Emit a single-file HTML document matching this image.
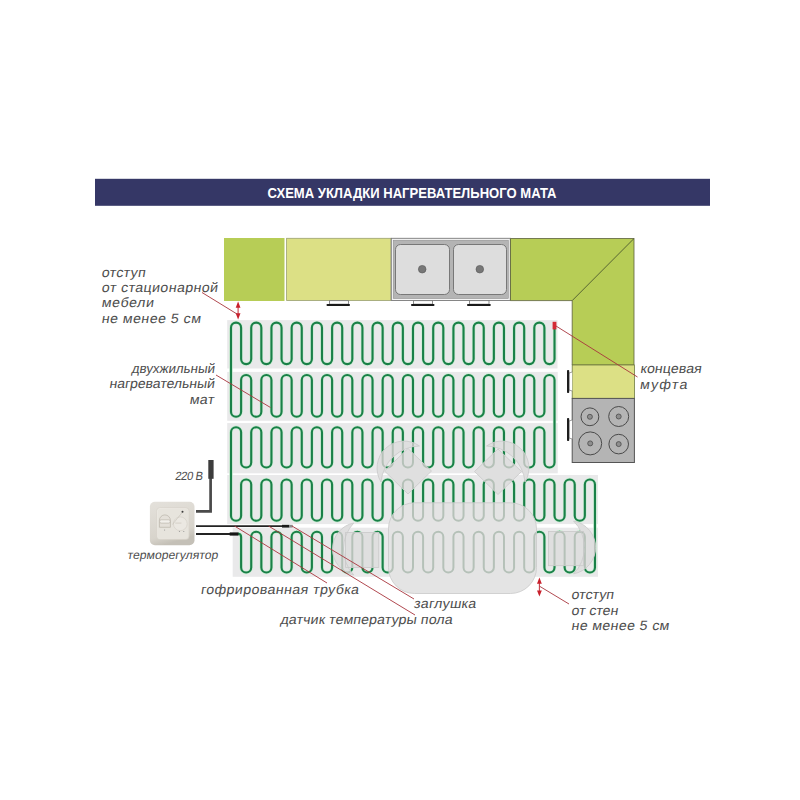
<!DOCTYPE html><html><head><meta charset="utf-8"><style>html,body{margin:0;padding:0;background:#fff;width:800px;height:800px;overflow:hidden}svg{display:block}text{font-family:"Liberation Sans",sans-serif}</style></head><body>
<svg width="800" height="800" viewBox="0 0 800 800">
<rect width="800" height="800" fill="#fff"/>
<rect x="95" y="178.8" width="615" height="27" fill="#353766"/>
<text x="267.5" y="197.7" font-size="13.9" font-weight="bold" fill="#fff" textLength="289" lengthAdjust="spacingAndGlyphs">СХЕМА УКЛАДКИ НАГРЕВАТЕЛЬНОГО МАТА</text>
<rect x="224" y="238" width="60.5" height="63" fill="#b7cd56"/>
<rect x="286.6" y="238.3" width="104.4" height="62.2" fill="#dce085" stroke="#9aa070" stroke-width="0.8"/>
<rect x="391.3" y="238.3" width="119" height="62.2" fill="#f4f4f4" stroke="#7a7a7a" stroke-width="0.9"/>
<rect x="393.2" y="240.2" width="115.2" height="58.4" fill="#b4b4b4" stroke="#8a8a8a" stroke-width="0.5"/>
<rect x="395.5" y="244.5" width="54" height="50" rx="5" fill="#dddddd" stroke="#6e6e6e" stroke-width="0.9"/>
<rect x="453.5" y="244.5" width="53" height="50" rx="5" fill="#dddddd" stroke="#6e6e6e" stroke-width="0.9"/>
<circle cx="422.2" cy="269.2" r="3.8" fill="#777" stroke="#555" stroke-width="0.6"/>
<circle cx="479.8" cy="269.2" r="3.8" fill="#777" stroke="#555" stroke-width="0.6"/>
<path d="M510.5 238.5H634V365H572.2V300.6H510.5Z" fill="#b7cd56" stroke="#5a5f3a" stroke-width="0.8"/>
<path d="M634 238.5L572.2 300.6" stroke="#3f4a2a" stroke-width="0.8"/>
<rect x="572.2" y="365" width="62.2" height="33.4" fill="#dce085" stroke="#6f7a40" stroke-width="0.8"/>
<rect x="572.2" y="398.4" width="62.2" height="64.1" fill="#b4b4b4" stroke="#555" stroke-width="1"/>
<circle cx="589.9" cy="416.8" r="8.9" fill="none" stroke="#4a4a4a" stroke-width="1"/>
<circle cx="589.9" cy="416.8" r="2.5" fill="#8e8e8e" stroke="#4a4a4a" stroke-width="0.8"/>
<circle cx="618.7" cy="416.5" r="10" fill="none" stroke="#4a4a4a" stroke-width="1"/>
<circle cx="618.7" cy="416.5" r="2.5" fill="#8e8e8e" stroke="#4a4a4a" stroke-width="0.8"/>
<circle cx="590.2" cy="443.4" r="11.5" fill="none" stroke="#4a4a4a" stroke-width="1"/>
<circle cx="590.2" cy="443.4" r="2.5" fill="#8e8e8e" stroke="#4a4a4a" stroke-width="0.8"/>
<circle cx="618.7" cy="444.1" r="9.8" fill="none" stroke="#4a4a4a" stroke-width="1"/>
<circle cx="618.7" cy="444.1" r="2.5" fill="#8e8e8e" stroke="#4a4a4a" stroke-width="0.8"/>
<path d="M329.5 300.6V304.2H348.5V300.6Z" fill="#fff" stroke="#6a6a6a" stroke-width="0.75"/>
<rect x="326.5" y="303.9" width="23.5" height="2" rx="0.9" fill="#1a1a1a"/>
<path d="M413.5 300.6V304.2H432.5V300.6Z" fill="#fff" stroke="#6a6a6a" stroke-width="0.75"/>
<rect x="411" y="303.9" width="23.5" height="2" rx="0.9" fill="#1a1a1a"/>
<path d="M469.5 300.6V304.2H489V300.6Z" fill="#fff" stroke="#6a6a6a" stroke-width="0.75"/>
<rect x="467" y="303.9" width="23.80000000000001" height="2" rx="0.9" fill="#1a1a1a"/>
<path d="M572.2 372L569 373V390L572.2 391" fill="#fff" stroke="#777" stroke-width="0.7"/>
<rect x="567" y="370" width="2.2" height="23" rx="0.8" fill="#1e1e1e"/>
<path d="M572.2 420L569 421V438L572.2 439" fill="#fff" stroke="#777" stroke-width="0.7"/>
<rect x="567" y="418" width="2.2" height="23" rx="0.8" fill="#1e1e1e"/>
<rect x="227.2" y="320.1" width="330.3" height="48.39999999999998" fill="#e9e9ea"/>
<rect x="227.2" y="371.9" width="330.55" height="48.900000000000034" fill="#e9e9ea"/>
<rect x="227.2" y="423.06" width="330.55" height="50.24000000000001" fill="#e9e9ea"/>
<rect x="227.2" y="475" width="370.8" height="49.10000000000002" fill="#e9e9ea"/>
<rect x="232.7" y="527.7" width="365.3" height="49.09999999999991" fill="#e9e9ea"/>
<path d="M554.52 329L554.52 359.1A5.05 5.05 0 0 1 544.41 359.1L544.41 327.65A5.05 5.05 0 0 0 534.3 327.65L534.3 359.1A5.05 5.05 0 0 1 524.19 359.1L524.19 327.65A5.05 5.05 0 0 0 514.08 327.65L514.08 359.1A5.05 5.05 0 0 1 503.97 359.1L503.97 327.65A5.05 5.05 0 0 0 493.86 327.65L493.86 359.1A5.05 5.05 0 0 1 483.75 359.1L483.75 327.65A5.05 5.05 0 0 0 473.64 327.65L473.64 359.1A5.05 5.05 0 0 1 463.53 359.1L463.53 327.65A5.05 5.05 0 0 0 453.42 327.65L453.42 359.1A5.05 5.05 0 0 1 443.31 359.1L443.31 327.65A5.05 5.05 0 0 0 433.2 327.65L433.2 359.1A5.05 5.05 0 0 1 423.09 359.1L423.09 327.65A5.05 5.05 0 0 0 412.98 327.65L412.98 359.1A5.05 5.05 0 0 1 402.87 359.1L402.87 327.65A5.05 5.05 0 0 0 392.76 327.65L392.76 359.1A5.05 5.05 0 0 1 382.65 359.1L382.65 327.65A5.05 5.05 0 0 0 372.54 327.65L372.54 359.1A5.05 5.05 0 0 1 362.43 359.1L362.43 327.65A5.05 5.05 0 0 0 352.32 327.65L352.32 359.1A5.05 5.05 0 0 1 342.21 359.1L342.21 327.65A5.05 5.05 0 0 0 332.1 327.65L332.1 359.1A5.05 5.05 0 0 1 321.99 359.1L321.99 327.65A5.05 5.05 0 0 0 311.88 327.65L311.88 359.1A5.05 5.05 0 0 1 301.77 359.1L301.77 327.65A5.05 5.05 0 0 0 291.66 327.65L291.66 359.1A5.05 5.05 0 0 1 281.55 359.1L281.55 327.65A5.05 5.05 0 0 0 271.44 327.65L271.44 359.1A5.05 5.05 0 0 1 261.33 359.1L261.33 327.65A5.05 5.05 0 0 0 251.22 327.65L251.22 359.1A5.05 5.05 0 0 1 241.11 359.1L241.11 327.65A5.05 5.05 0 0 0 231 327.65L231 359.1L231 411.75A5.05 5.05 0 0 0 241.11 411.75L241.11 380.05A5.05 5.05 0 0 1 251.22 380.05L251.22 411.75A5.05 5.05 0 0 0 261.33 411.75L261.33 380.05A5.05 5.05 0 0 1 271.44 380.05L271.44 411.75A5.05 5.05 0 0 0 281.55 411.75L281.55 380.05A5.05 5.05 0 0 1 291.66 380.05L291.66 411.75A5.05 5.05 0 0 0 301.77 411.75L301.77 380.05A5.05 5.05 0 0 1 311.88 380.05L311.88 411.75A5.05 5.05 0 0 0 321.99 411.75L321.99 380.05A5.05 5.05 0 0 1 332.1 380.05L332.1 411.75A5.05 5.05 0 0 0 342.21 411.75L342.21 380.05A5.05 5.05 0 0 1 352.32 380.05L352.32 411.75A5.05 5.05 0 0 0 362.43 411.75L362.43 380.05A5.05 5.05 0 0 1 372.54 380.05L372.54 411.75A5.05 5.05 0 0 0 382.65 411.75L382.65 380.05A5.05 5.05 0 0 1 392.76 380.05L392.76 411.75A5.05 5.05 0 0 0 402.87 411.75L402.87 380.05A5.05 5.05 0 0 1 412.98 380.05L412.98 411.75A5.05 5.05 0 0 0 423.09 411.75L423.09 380.05A5.05 5.05 0 0 1 433.2 380.05L433.2 411.75A5.05 5.05 0 0 0 443.31 411.75L443.31 380.05A5.05 5.05 0 0 1 453.42 380.05L453.42 411.75A5.05 5.05 0 0 0 463.53 411.75L463.53 380.05A5.05 5.05 0 0 1 473.64 380.05L473.64 411.75A5.05 5.05 0 0 0 483.75 411.75L483.75 380.05A5.05 5.05 0 0 1 493.86 380.05L493.86 411.75A5.05 5.05 0 0 0 503.97 411.75L503.97 380.05A5.05 5.05 0 0 1 514.08 380.05L514.08 411.75A5.05 5.05 0 0 0 524.19 411.75L524.19 380.05A5.05 5.05 0 0 1 534.3 380.05L534.3 411.75A5.05 5.05 0 0 0 544.41 411.75L544.41 380.05A5.05 5.05 0 0 1 554.52 380.05L554.52 411.75L554.52 462.5A5.05 5.05 0 0 1 544.41 462.5L544.41 432.25A5.05 5.05 0 0 0 534.3 432.25L534.3 462.5A5.05 5.05 0 0 1 524.19 462.5L524.19 432.25A5.05 5.05 0 0 0 514.08 432.25L514.08 462.5A5.05 5.05 0 0 1 503.97 462.5L503.97 432.25A5.05 5.05 0 0 0 493.86 432.25L493.86 462.5A5.05 5.05 0 0 1 483.75 462.5L483.75 432.25A5.05 5.05 0 0 0 473.64 432.25L473.64 462.5A5.05 5.05 0 0 1 463.53 462.5L463.53 432.25A5.05 5.05 0 0 0 453.42 432.25L453.42 462.5A5.05 5.05 0 0 1 443.31 462.5L443.31 432.25A5.05 5.05 0 0 0 433.2 432.25L433.2 462.5A5.05 5.05 0 0 1 423.09 462.5L423.09 432.25A5.05 5.05 0 0 0 412.98 432.25L412.98 462.5A5.05 5.05 0 0 1 402.87 462.5L402.87 432.25A5.05 5.05 0 0 0 392.76 432.25L392.76 462.5A5.05 5.05 0 0 1 382.65 462.5L382.65 432.25A5.05 5.05 0 0 0 372.54 432.25L372.54 462.5A5.05 5.05 0 0 1 362.43 462.5L362.43 432.25A5.05 5.05 0 0 0 352.32 432.25L352.32 462.5A5.05 5.05 0 0 1 342.21 462.5L342.21 432.25A5.05 5.05 0 0 0 332.1 432.25L332.1 462.5A5.05 5.05 0 0 1 321.99 462.5L321.99 432.25A5.05 5.05 0 0 0 311.88 432.25L311.88 462.5A5.05 5.05 0 0 1 301.77 462.5L301.77 432.25A5.05 5.05 0 0 0 291.66 432.25L291.66 462.5A5.05 5.05 0 0 1 281.55 462.5L281.55 432.25A5.05 5.05 0 0 0 271.44 432.25L271.44 462.5A5.05 5.05 0 0 1 261.33 462.5L261.33 432.25A5.05 5.05 0 0 0 251.22 432.25L251.22 462.5A5.05 5.05 0 0 1 241.11 462.5L241.11 432.25A5.05 5.05 0 0 0 231 432.25L231 462.5L231 515.7A5.05 5.05 0 0 0 241.11 515.7L241.11 484.5A5.05 5.05 0 0 1 251.22 484.5L251.22 515.7A5.05 5.05 0 0 0 261.33 515.7L261.33 484.5A5.05 5.05 0 0 1 271.44 484.5L271.44 515.7A5.05 5.05 0 0 0 281.55 515.7L281.55 484.5A5.05 5.05 0 0 1 291.66 484.5L291.66 515.7A5.05 5.05 0 0 0 301.77 515.7L301.77 484.5A5.05 5.05 0 0 1 311.88 484.5L311.88 515.7A5.05 5.05 0 0 0 321.99 515.7L321.99 484.5A5.05 5.05 0 0 1 332.1 484.5L332.1 515.7A5.05 5.05 0 0 0 342.21 515.7L342.21 484.5A5.05 5.05 0 0 1 352.32 484.5L352.32 515.7A5.05 5.05 0 0 0 362.43 515.7L362.43 484.5A5.05 5.05 0 0 1 372.54 484.5L372.54 515.7A5.05 5.05 0 0 0 382.65 515.7L382.65 484.5A5.05 5.05 0 0 1 392.76 484.5L392.76 515.7A5.05 5.05 0 0 0 402.87 515.7L402.87 484.5A5.05 5.05 0 0 1 412.98 484.5L412.98 515.7A5.05 5.05 0 0 0 423.09 515.7L423.09 484.5A5.05 5.05 0 0 1 433.2 484.5L433.2 515.7A5.05 5.05 0 0 0 443.31 515.7L443.31 484.5A5.05 5.05 0 0 1 453.42 484.5L453.42 515.7A5.05 5.05 0 0 0 463.53 515.7L463.53 484.5A5.05 5.05 0 0 1 473.64 484.5L473.64 515.7A5.05 5.05 0 0 0 483.75 515.7L483.75 484.5A5.05 5.05 0 0 1 493.86 484.5L493.86 515.7A5.05 5.05 0 0 0 503.97 515.7L503.97 484.5A5.05 5.05 0 0 1 514.08 484.5L514.08 515.7A5.05 5.05 0 0 0 524.19 515.7L524.19 484.5A5.05 5.05 0 0 1 534.3 484.5L534.3 515.7A5.05 5.05 0 0 0 544.41 515.7L544.41 484.5A5.05 5.05 0 0 1 554.52 484.5L554.52 515.7A5.05 5.05 0 0 0 564.63 515.7L564.63 484.5A5.05 5.05 0 0 1 574.74 484.5L574.74 515.7A5.05 5.05 0 0 0 584.85 515.7L584.85 484.5A5.05 5.05 0 0 1 594.96 484.5L594.96 515.7L594.96 567.45A5.05 5.05 0 0 1 584.85 567.45L584.85 536.8A5.05 5.05 0 0 0 574.74 536.8L574.74 567.45A5.05 5.05 0 0 1 564.63 567.45L564.63 536.8A5.05 5.05 0 0 0 554.52 536.8L554.52 567.45A5.05 5.05 0 0 1 544.41 567.45L544.41 536.8A5.05 5.05 0 0 0 534.3 536.8L534.3 567.45A5.05 5.05 0 0 1 524.19 567.45L524.19 536.8A5.05 5.05 0 0 0 514.08 536.8L514.08 567.45A5.05 5.05 0 0 1 503.97 567.45L503.97 536.8A5.05 5.05 0 0 0 493.86 536.8L493.86 567.45A5.05 5.05 0 0 1 483.75 567.45L483.75 536.8A5.05 5.05 0 0 0 473.64 536.8L473.64 567.45A5.05 5.05 0 0 1 463.53 567.45L463.53 536.8A5.05 5.05 0 0 0 453.42 536.8L453.42 567.45A5.05 5.05 0 0 1 443.31 567.45L443.31 536.8A5.05 5.05 0 0 0 433.2 536.8L433.2 567.45A5.05 5.05 0 0 1 423.09 567.45L423.09 536.8A5.05 5.05 0 0 0 412.98 536.8L412.98 567.45A5.05 5.05 0 0 1 402.87 567.45L402.87 536.8A5.05 5.05 0 0 0 392.76 536.8L392.76 567.45A5.05 5.05 0 0 1 382.65 567.45L382.65 536.8A5.05 5.05 0 0 0 372.54 536.8L372.54 567.45A5.05 5.05 0 0 1 362.43 567.45L362.43 536.8A5.05 5.05 0 0 0 352.32 536.8L352.32 567.45A5.05 5.05 0 0 1 342.21 567.45L342.21 536.8A5.05 5.05 0 0 0 332.1 536.8L332.1 567.45A5.05 5.05 0 0 1 321.99 567.45L321.99 536.8A5.05 5.05 0 0 0 311.88 536.8L311.88 567.45A5.05 5.05 0 0 1 301.77 567.45L301.77 536.8A5.05 5.05 0 0 0 291.66 536.8L291.66 567.45A5.05 5.05 0 0 1 281.55 567.45L281.55 536.8A5.05 5.05 0 0 0 271.44 536.8L271.44 567.45A5.05 5.05 0 0 1 261.33 567.45L261.33 536.8A5.05 5.05 0 0 0 251.22 536.8L251.22 567.45A5.05 5.05 0 0 1 241.11 567.45L241.11 536.8L241.11 537Q241.11 533.8 238 533.8" fill="none" stroke="#c9ecd2" stroke-width="3.4"/>
<path d="M554.52 329L554.52 359.1A5.05 5.05 0 0 1 544.41 359.1L544.41 327.65A5.05 5.05 0 0 0 534.3 327.65L534.3 359.1A5.05 5.05 0 0 1 524.19 359.1L524.19 327.65A5.05 5.05 0 0 0 514.08 327.65L514.08 359.1A5.05 5.05 0 0 1 503.97 359.1L503.97 327.65A5.05 5.05 0 0 0 493.86 327.65L493.86 359.1A5.05 5.05 0 0 1 483.75 359.1L483.75 327.65A5.05 5.05 0 0 0 473.64 327.65L473.64 359.1A5.05 5.05 0 0 1 463.53 359.1L463.53 327.65A5.05 5.05 0 0 0 453.42 327.65L453.42 359.1A5.05 5.05 0 0 1 443.31 359.1L443.31 327.65A5.05 5.05 0 0 0 433.2 327.65L433.2 359.1A5.05 5.05 0 0 1 423.09 359.1L423.09 327.65A5.05 5.05 0 0 0 412.98 327.65L412.98 359.1A5.05 5.05 0 0 1 402.87 359.1L402.87 327.65A5.05 5.05 0 0 0 392.76 327.65L392.76 359.1A5.05 5.05 0 0 1 382.65 359.1L382.65 327.65A5.05 5.05 0 0 0 372.54 327.65L372.54 359.1A5.05 5.05 0 0 1 362.43 359.1L362.43 327.65A5.05 5.05 0 0 0 352.32 327.65L352.32 359.1A5.05 5.05 0 0 1 342.21 359.1L342.21 327.65A5.05 5.05 0 0 0 332.1 327.65L332.1 359.1A5.05 5.05 0 0 1 321.99 359.1L321.99 327.65A5.05 5.05 0 0 0 311.88 327.65L311.88 359.1A5.05 5.05 0 0 1 301.77 359.1L301.77 327.65A5.05 5.05 0 0 0 291.66 327.65L291.66 359.1A5.05 5.05 0 0 1 281.55 359.1L281.55 327.65A5.05 5.05 0 0 0 271.44 327.65L271.44 359.1A5.05 5.05 0 0 1 261.33 359.1L261.33 327.65A5.05 5.05 0 0 0 251.22 327.65L251.22 359.1A5.05 5.05 0 0 1 241.11 359.1L241.11 327.65A5.05 5.05 0 0 0 231 327.65L231 359.1L231 411.75A5.05 5.05 0 0 0 241.11 411.75L241.11 380.05A5.05 5.05 0 0 1 251.22 380.05L251.22 411.75A5.05 5.05 0 0 0 261.33 411.75L261.33 380.05A5.05 5.05 0 0 1 271.44 380.05L271.44 411.75A5.05 5.05 0 0 0 281.55 411.75L281.55 380.05A5.05 5.05 0 0 1 291.66 380.05L291.66 411.75A5.05 5.05 0 0 0 301.77 411.75L301.77 380.05A5.05 5.05 0 0 1 311.88 380.05L311.88 411.75A5.05 5.05 0 0 0 321.99 411.75L321.99 380.05A5.05 5.05 0 0 1 332.1 380.05L332.1 411.75A5.05 5.05 0 0 0 342.21 411.75L342.21 380.05A5.05 5.05 0 0 1 352.32 380.05L352.32 411.75A5.05 5.05 0 0 0 362.43 411.75L362.43 380.05A5.05 5.05 0 0 1 372.54 380.05L372.54 411.75A5.05 5.05 0 0 0 382.65 411.75L382.65 380.05A5.05 5.05 0 0 1 392.76 380.05L392.76 411.75A5.05 5.05 0 0 0 402.87 411.75L402.87 380.05A5.05 5.05 0 0 1 412.98 380.05L412.98 411.75A5.05 5.05 0 0 0 423.09 411.75L423.09 380.05A5.05 5.05 0 0 1 433.2 380.05L433.2 411.75A5.05 5.05 0 0 0 443.31 411.75L443.31 380.05A5.05 5.05 0 0 1 453.42 380.05L453.42 411.75A5.05 5.05 0 0 0 463.53 411.75L463.53 380.05A5.05 5.05 0 0 1 473.64 380.05L473.64 411.75A5.05 5.05 0 0 0 483.75 411.75L483.75 380.05A5.05 5.05 0 0 1 493.86 380.05L493.86 411.75A5.05 5.05 0 0 0 503.97 411.75L503.97 380.05A5.05 5.05 0 0 1 514.08 380.05L514.08 411.75A5.05 5.05 0 0 0 524.19 411.75L524.19 380.05A5.05 5.05 0 0 1 534.3 380.05L534.3 411.75A5.05 5.05 0 0 0 544.41 411.75L544.41 380.05A5.05 5.05 0 0 1 554.52 380.05L554.52 411.75L554.52 462.5A5.05 5.05 0 0 1 544.41 462.5L544.41 432.25A5.05 5.05 0 0 0 534.3 432.25L534.3 462.5A5.05 5.05 0 0 1 524.19 462.5L524.19 432.25A5.05 5.05 0 0 0 514.08 432.25L514.08 462.5A5.05 5.05 0 0 1 503.97 462.5L503.97 432.25A5.05 5.05 0 0 0 493.86 432.25L493.86 462.5A5.05 5.05 0 0 1 483.75 462.5L483.75 432.25A5.05 5.05 0 0 0 473.64 432.25L473.64 462.5A5.05 5.05 0 0 1 463.53 462.5L463.53 432.25A5.05 5.05 0 0 0 453.42 432.25L453.42 462.5A5.05 5.05 0 0 1 443.31 462.5L443.31 432.25A5.05 5.05 0 0 0 433.2 432.25L433.2 462.5A5.05 5.05 0 0 1 423.09 462.5L423.09 432.25A5.05 5.05 0 0 0 412.98 432.25L412.98 462.5A5.05 5.05 0 0 1 402.87 462.5L402.87 432.25A5.05 5.05 0 0 0 392.76 432.25L392.76 462.5A5.05 5.05 0 0 1 382.65 462.5L382.65 432.25A5.05 5.05 0 0 0 372.54 432.25L372.54 462.5A5.05 5.05 0 0 1 362.43 462.5L362.43 432.25A5.05 5.05 0 0 0 352.32 432.25L352.32 462.5A5.05 5.05 0 0 1 342.21 462.5L342.21 432.25A5.05 5.05 0 0 0 332.1 432.25L332.1 462.5A5.05 5.05 0 0 1 321.99 462.5L321.99 432.25A5.05 5.05 0 0 0 311.88 432.25L311.88 462.5A5.05 5.05 0 0 1 301.77 462.5L301.77 432.25A5.05 5.05 0 0 0 291.66 432.25L291.66 462.5A5.05 5.05 0 0 1 281.55 462.5L281.55 432.25A5.05 5.05 0 0 0 271.44 432.25L271.44 462.5A5.05 5.05 0 0 1 261.33 462.5L261.33 432.25A5.05 5.05 0 0 0 251.22 432.25L251.22 462.5A5.05 5.05 0 0 1 241.11 462.5L241.11 432.25A5.05 5.05 0 0 0 231 432.25L231 462.5L231 515.7A5.05 5.05 0 0 0 241.11 515.7L241.11 484.5A5.05 5.05 0 0 1 251.22 484.5L251.22 515.7A5.05 5.05 0 0 0 261.33 515.7L261.33 484.5A5.05 5.05 0 0 1 271.44 484.5L271.44 515.7A5.05 5.05 0 0 0 281.55 515.7L281.55 484.5A5.05 5.05 0 0 1 291.66 484.5L291.66 515.7A5.05 5.05 0 0 0 301.77 515.7L301.77 484.5A5.05 5.05 0 0 1 311.88 484.5L311.88 515.7A5.05 5.05 0 0 0 321.99 515.7L321.99 484.5A5.05 5.05 0 0 1 332.1 484.5L332.1 515.7A5.05 5.05 0 0 0 342.21 515.7L342.21 484.5A5.05 5.05 0 0 1 352.32 484.5L352.32 515.7A5.05 5.05 0 0 0 362.43 515.7L362.43 484.5A5.05 5.05 0 0 1 372.54 484.5L372.54 515.7A5.05 5.05 0 0 0 382.65 515.7L382.65 484.5A5.05 5.05 0 0 1 392.76 484.5L392.76 515.7A5.05 5.05 0 0 0 402.87 515.7L402.87 484.5A5.05 5.05 0 0 1 412.98 484.5L412.98 515.7A5.05 5.05 0 0 0 423.09 515.7L423.09 484.5A5.05 5.05 0 0 1 433.2 484.5L433.2 515.7A5.05 5.05 0 0 0 443.31 515.7L443.31 484.5A5.05 5.05 0 0 1 453.42 484.5L453.42 515.7A5.05 5.05 0 0 0 463.53 515.7L463.53 484.5A5.05 5.05 0 0 1 473.64 484.5L473.64 515.7A5.05 5.05 0 0 0 483.75 515.7L483.75 484.5A5.05 5.05 0 0 1 493.86 484.5L493.86 515.7A5.05 5.05 0 0 0 503.97 515.7L503.97 484.5A5.05 5.05 0 0 1 514.08 484.5L514.08 515.7A5.05 5.05 0 0 0 524.19 515.7L524.19 484.5A5.05 5.05 0 0 1 534.3 484.5L534.3 515.7A5.05 5.05 0 0 0 544.41 515.7L544.41 484.5A5.05 5.05 0 0 1 554.52 484.5L554.52 515.7A5.05 5.05 0 0 0 564.63 515.7L564.63 484.5A5.05 5.05 0 0 1 574.74 484.5L574.74 515.7A5.05 5.05 0 0 0 584.85 515.7L584.85 484.5A5.05 5.05 0 0 1 594.96 484.5L594.96 515.7L594.96 567.45A5.05 5.05 0 0 1 584.85 567.45L584.85 536.8A5.05 5.05 0 0 0 574.74 536.8L574.74 567.45A5.05 5.05 0 0 1 564.63 567.45L564.63 536.8A5.05 5.05 0 0 0 554.52 536.8L554.52 567.45A5.05 5.05 0 0 1 544.41 567.45L544.41 536.8A5.05 5.05 0 0 0 534.3 536.8L534.3 567.45A5.05 5.05 0 0 1 524.19 567.45L524.19 536.8A5.05 5.05 0 0 0 514.08 536.8L514.08 567.45A5.05 5.05 0 0 1 503.97 567.45L503.97 536.8A5.05 5.05 0 0 0 493.86 536.8L493.86 567.45A5.05 5.05 0 0 1 483.75 567.45L483.75 536.8A5.05 5.05 0 0 0 473.64 536.8L473.64 567.45A5.05 5.05 0 0 1 463.53 567.45L463.53 536.8A5.05 5.05 0 0 0 453.42 536.8L453.42 567.45A5.05 5.05 0 0 1 443.31 567.45L443.31 536.8A5.05 5.05 0 0 0 433.2 536.8L433.2 567.45A5.05 5.05 0 0 1 423.09 567.45L423.09 536.8A5.05 5.05 0 0 0 412.98 536.8L412.98 567.45A5.05 5.05 0 0 1 402.87 567.45L402.87 536.8A5.05 5.05 0 0 0 392.76 536.8L392.76 567.45A5.05 5.05 0 0 1 382.65 567.45L382.65 536.8A5.05 5.05 0 0 0 372.54 536.8L372.54 567.45A5.05 5.05 0 0 1 362.43 567.45L362.43 536.8A5.05 5.05 0 0 0 352.32 536.8L352.32 567.45A5.05 5.05 0 0 1 342.21 567.45L342.21 536.8A5.05 5.05 0 0 0 332.1 536.8L332.1 567.45A5.05 5.05 0 0 1 321.99 567.45L321.99 536.8A5.05 5.05 0 0 0 311.88 536.8L311.88 567.45A5.05 5.05 0 0 1 301.77 567.45L301.77 536.8A5.05 5.05 0 0 0 291.66 536.8L291.66 567.45A5.05 5.05 0 0 1 281.55 567.45L281.55 536.8A5.05 5.05 0 0 0 271.44 536.8L271.44 567.45A5.05 5.05 0 0 1 261.33 567.45L261.33 536.8A5.05 5.05 0 0 0 251.22 536.8L251.22 567.45A5.05 5.05 0 0 1 241.11 567.45L241.11 536.8L241.11 537Q241.11 533.8 238 533.8" fill="none" stroke="#1a8048" stroke-width="2.1"/>
<rect x="552.6" y="321.8" width="3.8" height="7.6" fill="#d42a35"/>
<defs><clipPath id="furn"><path d="M419.5 446A26.92 26.92 0 0 0 381 482A39.53 39.53 0 0 1 419.5 446Z"/><path d="M408 448.5L431.5 471L408 494L384.5 471Z"/><path d="M486.5 446A26.92 26.92 0 0 1 525 482A39.53 39.53 0 0 0 486.5 446Z"/><path d="M498 449L521.5 471.5L498 494.5L474.5 471.5Z"/><path d="M573.6 521A26.84 26.84 0 0 1 573.6 573.8A37.42 37.42 0 0 0 573.6 521Z"/><rect x="548.5" y="531.5" width="35" height="34.2"/><path d="M353.75 523A26.53 26.53 0 0 0 353.75 575A38.06 38.06 0 0 1 353.75 523Z"/><rect x="345.6" y="532.5" width="33.2" height="35"/><rect x="388.5" y="502.8" width="148" height="90.7" rx="26" ry="26"/></clipPath></defs>
<g><path d="M419.5 446A26.92 26.92 0 0 0 381 482A39.53 39.53 0 0 1 419.5 446Z" fill="#dfdfdf"/><path d="M408 448.5L431.5 471L408 494L384.5 471Z" fill="#dfdfdf"/><path d="M486.5 446A26.92 26.92 0 0 1 525 482A39.53 39.53 0 0 0 486.5 446Z" fill="#dfdfdf"/><path d="M498 449L521.5 471.5L498 494.5L474.5 471.5Z" fill="#dfdfdf"/><path d="M573.6 521A26.84 26.84 0 0 1 573.6 573.8A37.42 37.42 0 0 0 573.6 521Z" fill="#dfdfdf"/><rect x="548.5" y="531.5" width="35" height="34.2" fill="#dfdfdf"/><path d="M353.75 523A26.53 26.53 0 0 0 353.75 575A38.06 38.06 0 0 1 353.75 523Z" fill="#dfdfdf"/><rect x="345.6" y="532.5" width="33.2" height="35" fill="#dfdfdf"/><rect x="388.5" y="502.8" width="148" height="90.7" rx="26" ry="26" fill="#e4e4e4"/></g>
<path d="M554.52 329L554.52 359.1A5.05 5.05 0 0 1 544.41 359.1L544.41 327.65A5.05 5.05 0 0 0 534.3 327.65L534.3 359.1A5.05 5.05 0 0 1 524.19 359.1L524.19 327.65A5.05 5.05 0 0 0 514.08 327.65L514.08 359.1A5.05 5.05 0 0 1 503.97 359.1L503.97 327.65A5.05 5.05 0 0 0 493.86 327.65L493.86 359.1A5.05 5.05 0 0 1 483.75 359.1L483.75 327.65A5.05 5.05 0 0 0 473.64 327.65L473.64 359.1A5.05 5.05 0 0 1 463.53 359.1L463.53 327.65A5.05 5.05 0 0 0 453.42 327.65L453.42 359.1A5.05 5.05 0 0 1 443.31 359.1L443.31 327.65A5.05 5.05 0 0 0 433.2 327.65L433.2 359.1A5.05 5.05 0 0 1 423.09 359.1L423.09 327.65A5.05 5.05 0 0 0 412.98 327.65L412.98 359.1A5.05 5.05 0 0 1 402.87 359.1L402.87 327.65A5.05 5.05 0 0 0 392.76 327.65L392.76 359.1A5.05 5.05 0 0 1 382.65 359.1L382.65 327.65A5.05 5.05 0 0 0 372.54 327.65L372.54 359.1A5.05 5.05 0 0 1 362.43 359.1L362.43 327.65A5.05 5.05 0 0 0 352.32 327.65L352.32 359.1A5.05 5.05 0 0 1 342.21 359.1L342.21 327.65A5.05 5.05 0 0 0 332.1 327.65L332.1 359.1A5.05 5.05 0 0 1 321.99 359.1L321.99 327.65A5.05 5.05 0 0 0 311.88 327.65L311.88 359.1A5.05 5.05 0 0 1 301.77 359.1L301.77 327.65A5.05 5.05 0 0 0 291.66 327.65L291.66 359.1A5.05 5.05 0 0 1 281.55 359.1L281.55 327.65A5.05 5.05 0 0 0 271.44 327.65L271.44 359.1A5.05 5.05 0 0 1 261.33 359.1L261.33 327.65A5.05 5.05 0 0 0 251.22 327.65L251.22 359.1A5.05 5.05 0 0 1 241.11 359.1L241.11 327.65A5.05 5.05 0 0 0 231 327.65L231 359.1L231 411.75A5.05 5.05 0 0 0 241.11 411.75L241.11 380.05A5.05 5.05 0 0 1 251.22 380.05L251.22 411.75A5.05 5.05 0 0 0 261.33 411.75L261.33 380.05A5.05 5.05 0 0 1 271.44 380.05L271.44 411.75A5.05 5.05 0 0 0 281.55 411.75L281.55 380.05A5.05 5.05 0 0 1 291.66 380.05L291.66 411.75A5.05 5.05 0 0 0 301.77 411.75L301.77 380.05A5.05 5.05 0 0 1 311.88 380.05L311.88 411.75A5.05 5.05 0 0 0 321.99 411.75L321.99 380.05A5.05 5.05 0 0 1 332.1 380.05L332.1 411.75A5.05 5.05 0 0 0 342.21 411.75L342.21 380.05A5.05 5.05 0 0 1 352.32 380.05L352.32 411.75A5.05 5.05 0 0 0 362.43 411.75L362.43 380.05A5.05 5.05 0 0 1 372.54 380.05L372.54 411.75A5.05 5.05 0 0 0 382.65 411.75L382.65 380.05A5.05 5.05 0 0 1 392.76 380.05L392.76 411.75A5.05 5.05 0 0 0 402.87 411.75L402.87 380.05A5.05 5.05 0 0 1 412.98 380.05L412.98 411.75A5.05 5.05 0 0 0 423.09 411.75L423.09 380.05A5.05 5.05 0 0 1 433.2 380.05L433.2 411.75A5.05 5.05 0 0 0 443.31 411.75L443.31 380.05A5.05 5.05 0 0 1 453.42 380.05L453.42 411.75A5.05 5.05 0 0 0 463.53 411.75L463.53 380.05A5.05 5.05 0 0 1 473.64 380.05L473.64 411.75A5.05 5.05 0 0 0 483.75 411.75L483.75 380.05A5.05 5.05 0 0 1 493.86 380.05L493.86 411.75A5.05 5.05 0 0 0 503.97 411.75L503.97 380.05A5.05 5.05 0 0 1 514.08 380.05L514.08 411.75A5.05 5.05 0 0 0 524.19 411.75L524.19 380.05A5.05 5.05 0 0 1 534.3 380.05L534.3 411.75A5.05 5.05 0 0 0 544.41 411.75L544.41 380.05A5.05 5.05 0 0 1 554.52 380.05L554.52 411.75L554.52 462.5A5.05 5.05 0 0 1 544.41 462.5L544.41 432.25A5.05 5.05 0 0 0 534.3 432.25L534.3 462.5A5.05 5.05 0 0 1 524.19 462.5L524.19 432.25A5.05 5.05 0 0 0 514.08 432.25L514.08 462.5A5.05 5.05 0 0 1 503.97 462.5L503.97 432.25A5.05 5.05 0 0 0 493.86 432.25L493.86 462.5A5.05 5.05 0 0 1 483.75 462.5L483.75 432.25A5.05 5.05 0 0 0 473.64 432.25L473.64 462.5A5.05 5.05 0 0 1 463.53 462.5L463.53 432.25A5.05 5.05 0 0 0 453.42 432.25L453.42 462.5A5.05 5.05 0 0 1 443.31 462.5L443.31 432.25A5.05 5.05 0 0 0 433.2 432.25L433.2 462.5A5.05 5.05 0 0 1 423.09 462.5L423.09 432.25A5.05 5.05 0 0 0 412.98 432.25L412.98 462.5A5.05 5.05 0 0 1 402.87 462.5L402.87 432.25A5.05 5.05 0 0 0 392.76 432.25L392.76 462.5A5.05 5.05 0 0 1 382.65 462.5L382.65 432.25A5.05 5.05 0 0 0 372.54 432.25L372.54 462.5A5.05 5.05 0 0 1 362.43 462.5L362.43 432.25A5.05 5.05 0 0 0 352.32 432.25L352.32 462.5A5.05 5.05 0 0 1 342.21 462.5L342.21 432.25A5.05 5.05 0 0 0 332.1 432.25L332.1 462.5A5.05 5.05 0 0 1 321.99 462.5L321.99 432.25A5.05 5.05 0 0 0 311.88 432.25L311.88 462.5A5.05 5.05 0 0 1 301.77 462.5L301.77 432.25A5.05 5.05 0 0 0 291.66 432.25L291.66 462.5A5.05 5.05 0 0 1 281.55 462.5L281.55 432.25A5.05 5.05 0 0 0 271.44 432.25L271.44 462.5A5.05 5.05 0 0 1 261.33 462.5L261.33 432.25A5.05 5.05 0 0 0 251.22 432.25L251.22 462.5A5.05 5.05 0 0 1 241.11 462.5L241.11 432.25A5.05 5.05 0 0 0 231 432.25L231 462.5L231 515.7A5.05 5.05 0 0 0 241.11 515.7L241.11 484.5A5.05 5.05 0 0 1 251.22 484.5L251.22 515.7A5.05 5.05 0 0 0 261.33 515.7L261.33 484.5A5.05 5.05 0 0 1 271.44 484.5L271.44 515.7A5.05 5.05 0 0 0 281.55 515.7L281.55 484.5A5.05 5.05 0 0 1 291.66 484.5L291.66 515.7A5.05 5.05 0 0 0 301.77 515.7L301.77 484.5A5.05 5.05 0 0 1 311.88 484.5L311.88 515.7A5.05 5.05 0 0 0 321.99 515.7L321.99 484.5A5.05 5.05 0 0 1 332.1 484.5L332.1 515.7A5.05 5.05 0 0 0 342.21 515.7L342.21 484.5A5.05 5.05 0 0 1 352.32 484.5L352.32 515.7A5.05 5.05 0 0 0 362.43 515.7L362.43 484.5A5.05 5.05 0 0 1 372.54 484.5L372.54 515.7A5.05 5.05 0 0 0 382.65 515.7L382.65 484.5A5.05 5.05 0 0 1 392.76 484.5L392.76 515.7A5.05 5.05 0 0 0 402.87 515.7L402.87 484.5A5.05 5.05 0 0 1 412.98 484.5L412.98 515.7A5.05 5.05 0 0 0 423.09 515.7L423.09 484.5A5.05 5.05 0 0 1 433.2 484.5L433.2 515.7A5.05 5.05 0 0 0 443.31 515.7L443.31 484.5A5.05 5.05 0 0 1 453.42 484.5L453.42 515.7A5.05 5.05 0 0 0 463.53 515.7L463.53 484.5A5.05 5.05 0 0 1 473.64 484.5L473.64 515.7A5.05 5.05 0 0 0 483.75 515.7L483.75 484.5A5.05 5.05 0 0 1 493.86 484.5L493.86 515.7A5.05 5.05 0 0 0 503.97 515.7L503.97 484.5A5.05 5.05 0 0 1 514.08 484.5L514.08 515.7A5.05 5.05 0 0 0 524.19 515.7L524.19 484.5A5.05 5.05 0 0 1 534.3 484.5L534.3 515.7A5.05 5.05 0 0 0 544.41 515.7L544.41 484.5A5.05 5.05 0 0 1 554.52 484.5L554.52 515.7A5.05 5.05 0 0 0 564.63 515.7L564.63 484.5A5.05 5.05 0 0 1 574.74 484.5L574.74 515.7A5.05 5.05 0 0 0 584.85 515.7L584.85 484.5A5.05 5.05 0 0 1 594.96 484.5L594.96 515.7L594.96 567.45A5.05 5.05 0 0 1 584.85 567.45L584.85 536.8A5.05 5.05 0 0 0 574.74 536.8L574.74 567.45A5.05 5.05 0 0 1 564.63 567.45L564.63 536.8A5.05 5.05 0 0 0 554.52 536.8L554.52 567.45A5.05 5.05 0 0 1 544.41 567.45L544.41 536.8A5.05 5.05 0 0 0 534.3 536.8L534.3 567.45A5.05 5.05 0 0 1 524.19 567.45L524.19 536.8A5.05 5.05 0 0 0 514.08 536.8L514.08 567.45A5.05 5.05 0 0 1 503.97 567.45L503.97 536.8A5.05 5.05 0 0 0 493.86 536.8L493.86 567.45A5.05 5.05 0 0 1 483.75 567.45L483.75 536.8A5.05 5.05 0 0 0 473.64 536.8L473.64 567.45A5.05 5.05 0 0 1 463.53 567.45L463.53 536.8A5.05 5.05 0 0 0 453.42 536.8L453.42 567.45A5.05 5.05 0 0 1 443.31 567.45L443.31 536.8A5.05 5.05 0 0 0 433.2 536.8L433.2 567.45A5.05 5.05 0 0 1 423.09 567.45L423.09 536.8A5.05 5.05 0 0 0 412.98 536.8L412.98 567.45A5.05 5.05 0 0 1 402.87 567.45L402.87 536.8A5.05 5.05 0 0 0 392.76 536.8L392.76 567.45A5.05 5.05 0 0 1 382.65 567.45L382.65 536.8A5.05 5.05 0 0 0 372.54 536.8L372.54 567.45A5.05 5.05 0 0 1 362.43 567.45L362.43 536.8A5.05 5.05 0 0 0 352.32 536.8L352.32 567.45A5.05 5.05 0 0 1 342.21 567.45L342.21 536.8A5.05 5.05 0 0 0 332.1 536.8L332.1 567.45A5.05 5.05 0 0 1 321.99 567.45L321.99 536.8A5.05 5.05 0 0 0 311.88 536.8L311.88 567.45A5.05 5.05 0 0 1 301.77 567.45L301.77 536.8A5.05 5.05 0 0 0 291.66 536.8L291.66 567.45A5.05 5.05 0 0 1 281.55 567.45L281.55 536.8A5.05 5.05 0 0 0 271.44 536.8L271.44 567.45A5.05 5.05 0 0 1 261.33 567.45L261.33 536.8A5.05 5.05 0 0 0 251.22 536.8L251.22 567.45A5.05 5.05 0 0 1 241.11 567.45L241.11 536.8L241.11 537Q241.11 533.8 238 533.8" fill="none" stroke="#b5c1b8" stroke-width="2" clip-path="url(#furn)"/>
<g><path d="M419.5 446A26.92 26.92 0 0 0 381 482A39.53 39.53 0 0 1 419.5 446Z" fill="none" stroke="#c9c9c9" stroke-width="0.8"/><path d="M408 448.5L431.5 471L408 494L384.5 471Z" fill="none" stroke="#c9c9c9" stroke-width="0.8"/><path d="M486.5 446A26.92 26.92 0 0 1 525 482A39.53 39.53 0 0 0 486.5 446Z" fill="none" stroke="#c9c9c9" stroke-width="0.8"/><path d="M498 449L521.5 471.5L498 494.5L474.5 471.5Z" fill="none" stroke="#c9c9c9" stroke-width="0.8"/><path d="M573.6 521A26.84 26.84 0 0 1 573.6 573.8A37.42 37.42 0 0 0 573.6 521Z" fill="none" stroke="#c9c9c9" stroke-width="0.8"/><rect x="548.5" y="531.5" width="35" height="34.2" fill="none" stroke="#c9c9c9" stroke-width="0.8"/><path d="M353.75 523A26.53 26.53 0 0 0 353.75 575A38.06 38.06 0 0 1 353.75 523Z" fill="none" stroke="#c9c9c9" stroke-width="0.8"/><rect x="345.6" y="532.5" width="33.2" height="35" fill="none" stroke="#c9c9c9" stroke-width="0.8"/><rect x="388.5" y="502.8" width="148" height="90.7" rx="26" ry="26" fill="none" stroke="#c9c9c9" stroke-width="0.8"/></g>
<defs><linearGradient id="tg" x1="0" y1="0" x2="0.3" y2="1"><stop offset="0" stop-color="#e4e1db"/><stop offset="0.8" stop-color="#d8d4cc"/><stop offset="1" stop-color="#c4c0b7"/></linearGradient><linearGradient id="pg" x1="0" y1="0" x2="1" y2="1"><stop offset="0" stop-color="#f2f0eb"/><stop offset="1" stop-color="#e2dfd7"/></linearGradient></defs>
<rect x="149.9" y="501.8" width="44.6" height="43.4" rx="5" fill="url(#tg)"/>
<rect x="156.7" y="507.7" width="32.4" height="31.9" rx="3.5" fill="url(#pg)" stroke="#d3cfc6" stroke-width="0.6"/>
<rect x="157.6" y="508.6" width="30.6" height="30.1" rx="3" fill="#e7e4dd"/>
<path d="M159.4 527.3V520.4A5.5 5.5 0 0 1 170.4 520.4V527.3Z" fill="#e4e0d9" stroke="#b9b3a9" stroke-width="0.7"/>
<rect x="159.6" y="519.8" width="10.6" height="3.3" rx="1.5" fill="#f2f0eb" stroke="#b5afa5" stroke-width="0.6"/>
<circle cx="180.3" cy="523.8" r="6.9" fill="#ebe8e2" stroke="#d2cdc4" stroke-width="0.6"/>
<path d="M172.5 524.5L182.6 511.9M175.3 523.1H181.4" stroke="#bdb8ae" stroke-width="0.5"/>
<circle cx="182.5" cy="511.8" r="1" fill="#3c3c3c"/><circle cx="164.6" cy="530" r="0.5" fill="#888"/><circle cx="179.4" cy="531.4" r="0.5" fill="#888"/><circle cx="183.8" cy="531.4" r="0.5" fill="#888"/>
<path d="M196 511.4H210.6V478" fill="none" stroke="#4a4a4a" stroke-width="2.7"/>
<rect x="208.3" y="460" width="5.3" height="18.8" fill="#3c3c3c"/>
<path d="M196 526.2H283" stroke="#232323" stroke-width="1.8"/>
<rect x="282" y="524.8" width="7.5" height="2.8" fill="#1a1a1a"/><rect x="289.5" y="524.8" width="3.2" height="2.8" fill="#8a8a8a"/>
<path d="M196 534H231" stroke="#232323" stroke-width="1.8"/>
<rect x="229.7" y="532.4" width="8.8" height="3.2" fill="#151515"/>
<path d="M238.1 306.6V314.4" stroke="#c8404a" stroke-width="1.1"/><path d="M235.7 307.8L238.1 301.6L240.5 307.8Z" fill="#c8202c"/><path d="M235.7 313.2L238.1 319.4L240.5 313.2Z" fill="#c8202c"/>
<path d="M539.4 582.5V591.6" stroke="#c8404a" stroke-width="1.1"/><path d="M537.0 583.7L539.4 577.5L541.8 583.7Z" fill="#c8202c"/><path d="M537.0 590.4L539.4 596.6L541.8 590.4Z" fill="#c8202c"/>
<path d="M202 292.5L237 314" stroke="#a8343c" stroke-width="0.9"/>
<path d="M216 375L270.5 407.5" stroke="#a8343c" stroke-width="0.9"/>
<path d="M556 326L637.5 377" stroke="#a8343c" stroke-width="0.9"/>
<path d="M234.5 526L327 583" stroke="#a8343c" stroke-width="0.9"/>
<path d="M268.5 526L415 615" stroke="#a8343c" stroke-width="0.9"/>
<path d="M292 526L414 599" stroke="#a8343c" stroke-width="0.9"/>
<path d="M539.7 586.3L569 604" stroke="#a8343c" stroke-width="0.9"/>
<text transform="translate(101.2 276.6) skewX(-9) scale(1.05 1)" font-size="13.5" fill="#4e4e4e" textLength="41.78" lengthAdjust="spacing">отступ</text>
<text transform="translate(101.2 291.6) skewX(-9) scale(1.05 1)" font-size="13.5" fill="#4e4e4e" textLength="110.69" lengthAdjust="spacing">от стационарной</text>
<text transform="translate(101.2 306.6) skewX(-9) scale(1.05 1)" font-size="13.5" fill="#4e4e4e" textLength="49.78" lengthAdjust="spacing">мебели</text>
<text transform="translate(101.2 322.5) skewX(-9) scale(1.05 1)" font-size="13.5" fill="#4e4e4e" textLength="94.48" lengthAdjust="spacing">не менее 5 см</text>
<text transform="translate(131.15 373) skewX(-9) scale(0.9847 1)" font-size="13.5" fill="#4e4e4e" textLength="84.54" lengthAdjust="spacing">двухжильный</text>
<text transform="translate(109.0 388.4) skewX(-9) scale(1.0356 1)" font-size="13.5" fill="#4e4e4e" textLength="101.65" lengthAdjust="spacing">нагревательный</text>
<text transform="translate(189.2 403.9) skewX(-9) scale(1.05 1)" font-size="13.5" fill="#4e4e4e" textLength="23.38" lengthAdjust="spacing">мат</text>
<text transform="translate(640.0 373) skewX(-9) scale(1.05 1)" font-size="13.5" fill="#4e4e4e" textLength="58.33" lengthAdjust="spacing">концевая</text>
<text transform="translate(639.5 388.5) skewX(-9) scale(1.05 1)" font-size="13.5" fill="#4e4e4e" textLength="45.05" lengthAdjust="spacing">муфта</text>
<text transform="translate(174.75 479.75) skewX(-9) scale(0.94 1)" font-size="12" fill="#4e4e4e" textLength="29.56" lengthAdjust="spacing">220 В</text>
<text transform="translate(127.0 558.9) skewX(-9) scale(1.0169 1)" font-size="12" fill="#4e4e4e" textLength="89.31" lengthAdjust="spacing">терморегулятор</text>
<text transform="translate(200.4 593.7) skewX(-9) scale(1.05 1)" font-size="13.5" fill="#4e4e4e" textLength="150.57" lengthAdjust="spacing">гофрированная трубка</text>
<text transform="translate(413.5 607.6) skewX(-9) scale(1.05 1)" font-size="13.5" fill="#4e4e4e" textLength="59.26" lengthAdjust="spacing">заглушка</text>
<text transform="translate(279.95 624.4) skewX(-9) scale(1.05 1)" font-size="13.5" fill="#4e4e4e" textLength="163.95" lengthAdjust="spacing">датчик температуры пола</text>
<text transform="translate(570.9 599) skewX(-9) scale(1.05 1)" font-size="13.5" fill="#4e4e4e" textLength="40.57" lengthAdjust="spacing">отступ</text>
<text transform="translate(570.9 615) skewX(-9) scale(1.0477 1)" font-size="13.5" fill="#4e4e4e" textLength="44.7" lengthAdjust="spacing">от стен</text>
<text transform="translate(571.0 630.25) skewX(-9) scale(1.05 1)" font-size="13.5" fill="#4e4e4e" textLength="93.18" lengthAdjust="spacing">не менее 5 см</text>
</svg></body></html>
